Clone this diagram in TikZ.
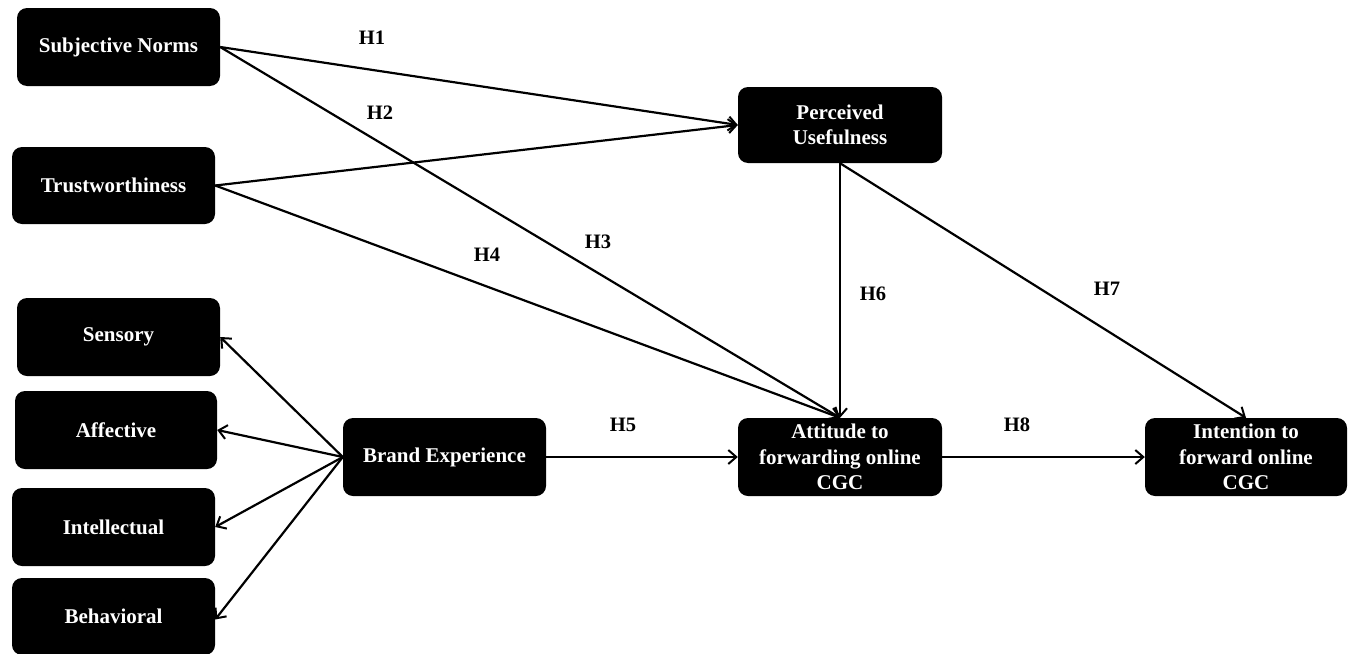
\documentclass[tikz,border=0pt]{standalone}
\usepackage{fontspec}
\setmainfont{Liberation Serif}
\usetikzlibrary{arrows.meta}
\begin{document}
\begin{tikzpicture}[x=1pt,y=-1pt,
  box/.style={draw=none, fill=black, rounded corners=10pt, text=white,
    font=\fontsize{21}{25.5}\selectfont\bfseries, align=center,
    minimum width=203pt, minimum height=78pt, inner sep=2pt},
  link/.style={line width=2.2pt, -{Straight Barb[length=8pt,width=14pt,line width=2pt]}},
  hyp/.style={font=\fontsize{20.5}{22}\selectfont\bfseries, inner sep=0pt}]
\useasboundingbox (0,0) rectangle (1354,653);

% constructs
\node[box] (sn) at (118.5,47) {Subjective Norms};
\node[box, minimum height=77pt] (tw) at (113.5,185.5) {Trustworthiness};
\node[box, minimum width=204pt, minimum height=76pt] (pu) at (840,125) {Perceived\\Usefulness};
\node[box] (se) at (118.5,337) {Sensory};
\node[box, minimum width=202pt] (af) at (116,430) {Affective};
\node[box] (il) at (113.5,527) {Intellectual};
\node[box, minimum height=77pt] (bh) at (113.5,616.5) {Behavioral};
\node[box] (bx) at (444.5,457) {Brand Experience};
\node[box, minimum width=204pt] (at) at (840,457) {Attitude to\\forwarding online\\CGC};
\node[box, minimum width=202pt] (it) at (1246,457) {Intention to\\forward online\\CGC};

% hypothesised paths
\draw[link] (sn.east) -- (pu.west);
\draw[link] (tw.east) -- (pu.west);
\draw[link] (sn.east) -- (at.north);
\draw[link] (tw.east) -- (at.north);
\draw[link] (pu.south) -- (at.north);
\draw[link] (pu.south) -- (it.north);
\draw[link] (bx.east) -- (at.west);
\draw[link] (at.east) -- (it.west);

% brand experience dimensions
\draw[link] (bx.west) -- (se.east);
\draw[link] (bx.west) -- (af.east);
\draw[link] (bx.west) -- (il.east);
\draw[link] (bx.west) -- ([yshift=-3pt]bh.east);

% hypothesis labels
\node[hyp] (h1) at (372,38) {H1};
\node[hyp] (h2) at (380,113) {H2};
\node[hyp] (h3) at (598,242) {H3};
\node[hyp] (h4) at (487,255) {H4};
\node[hyp] (h5) at (623,425) {H5};
\node[hyp] (h6) at (873,294) {H6};
\node[hyp] (h7) at (1107,289) {H7};
\node[hyp] (h8) at (1017,425) {H8};
\end{tikzpicture}
\end{document}
